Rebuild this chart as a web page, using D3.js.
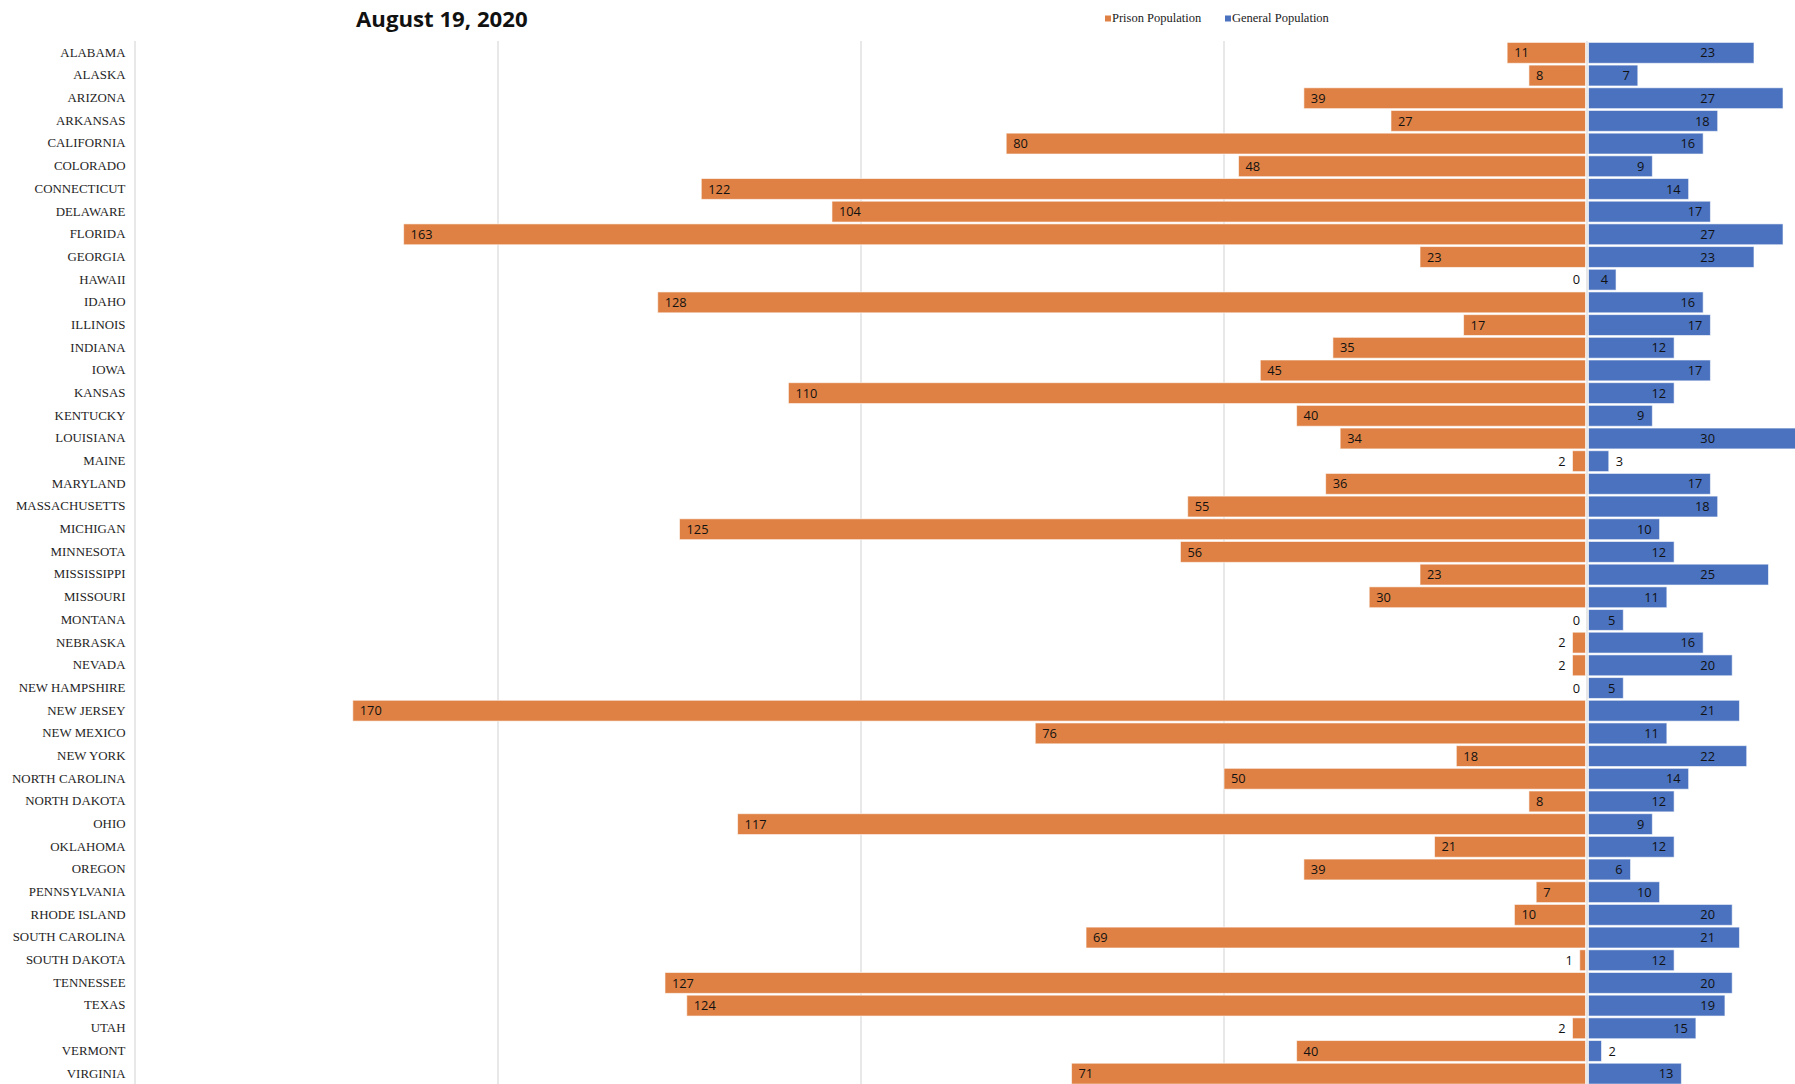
<!DOCTYPE html>
<html>
<head>
<meta charset="utf-8">
<script src="https://cdn.jsdelivr.net/npm/d3@7"></script>
<style>
  body { margin: 0; background: #fff; }
  svg { display: block; }
</style>
</head>
<body>
<svg width="1795" height="1084"></svg>
<script>
// Data
const states = ["ALABAMA", "ALASKA", "ARIZONA", "ARKANSAS", "CALIFORNIA", "COLORADO",
  "CONNECTICUT", "DELAWARE", "FLORIDA", "GEORGIA", "HAWAII", "IDAHO", "ILLINOIS",
  "INDIANA", "IOWA", "KANSAS", "KENTUCKY", "LOUISIANA", "MAINE", "MARYLAND",
  "MASSACHUSETTS", "MICHIGAN", "MINNESOTA", "MISSISSIPPI", "MISSOURI", "MONTANA",
  "NEBRASKA", "NEVADA", "NEW HAMPSHIRE", "NEW JERSEY", "NEW MEXICO", "NEW YORK",
  "NORTH CAROLINA", "NORTH DAKOTA", "OHIO", "OKLAHOMA", "OREGON", "PENNSYLVANIA",
  "RHODE ISLAND", "SOUTH CAROLINA", "SOUTH DAKOTA", "TENNESSEE", "TEXAS", "UTAH",
  "VERMONT", "VIRGINIA"];

const prison = [11, 8, 39, 27, 80, 48, 122, 104, 163, 23, 0, 128, 17, 35, 45, 110, 40,
  34, 2, 36, 55, 125, 56, 23, 30, 0, 2, 2, 0, 170, 76, 18, 50, 8, 117, 21, 39, 7, 10,
  69, 1, 127, 124, 2, 40, 71];

const general = [23, 7, 27, 18, 16, 9, 14, 17, 27, 23, 4, 16, 17, 12, 17, 12, 9, 30, 3,
  17, 18, 10, 12, 25, 11, 5, 16, 20, 5, 21, 11, 22, 14, 12, 9, 12, 6, 10, 20, 21, 12,
  20, 19, 15, 2, 13];

const gridTicks = [-200, -150, -100, -50, 0];
const seriesNames = ["Prison Population", "General Population"];

const orange = "#df8144";
const blue = "#4a72bf";

const svg = d3.select("svg");

// scales: prison goes left of zero, general to the right
const x = d3.scaleLinear()
   .domain([-200, 200])
   .range([135, 3039]);

const y = d3.scaleBand()
   .domain(states)
   .range([41.5, 1085])
   .paddingInner(0.08)
   .paddingOuter(0.04);

const labelMaxX = 1715; // labels stay inside the visible plot area

// gridlines
svg.append("g")
   .selectAll("line")
   .data(gridTicks)
   .join("line")
   .attr("x1", d => x(d))
   .attr("x2", d => x(d))
   .attr("y1", 41)
   .attr("y2", 1084)
   .attr("stroke", "#d9d9d9")
   .attr("stroke-width", 1.2);

// prison bars (left)
svg.append("g")
   .selectAll("rect")
   .data(states)
   .join("rect")
   .attr("x", (d, i) => x(-prison[i]))
   .attr("y", d => y(d))
   .attr("width", (d, i) => Math.max(0, x(0) - x(-prison[i]) - 1.5))
   .attr("height", y.bandwidth())
   .attr("fill", orange)
   .attr("stroke", "#fff")
   .attr("stroke-opacity", 0.6)
   .attr("stroke-width", 1)
   .attr("display", (d, i) => prison[i] === 0 ? "none" : null);

// general bars (right)
svg.append("g")
   .selectAll("rect")
   .data(states)
   .join("rect")
   .attr("x", x(0) + 1.5)
   .attr("y", d => y(d))
   .attr("width", (d, i) => Math.max(0, x(general[i]) - x(0) - 1.5))
   .attr("height", y.bandwidth())
   .attr("fill", blue)
   .attr("stroke", "#fff")
   .attr("stroke-opacity", 0.6)
   .attr("stroke-width", 1);

// value labels
const labelFont = "'Open Sans', sans-serif";
const fits = (v) => Math.abs(x(v) - x(0)) >= String(v).length * 7 + 16;

svg.append("g")
   .selectAll("text")
   .data(states)
   .join("text")
   .attr("x", (d, i) => fits(prison[i]) ? x(-prison[i]) + 7 : x(-prison[i]) - 7)
   .attr("y", d => y(d) + y.bandwidth() / 2)
   .attr("dy", "0.36em")
   .attr("text-anchor", (d, i) => fits(prison[i]) ? "start" : "end")
   .attr("font-family", labelFont)
   .attr("font-size", "12.8px")
   .attr("fill", "#111")
   .text((d, i) => prison[i]);

svg.append("g")
   .selectAll("text")
   .data(states)
   .join("text")
   .attr("x", (d, i) => fits(general[i]) ? Math.min(x(general[i]) - 8, labelMaxX) : x(general[i]) + 7)
   .attr("y", d => y(d) + y.bandwidth() / 2)
   .attr("dy", "0.36em")
   .attr("text-anchor", (d, i) => fits(general[i]) ? "end" : "start")
   .attr("font-family", labelFont)
   .attr("font-size", "12.8px")
   .attr("fill", "#111")
   .text((d, i) => general[i]);

// state names
svg.append("g")
   .selectAll("text")
   .data(states)
   .join("text")
   .attr("x", 125.5)
   .attr("y", d => y(d) + y.bandwidth() / 2)
   .attr("dy", "0.3em")
   .attr("text-anchor", "end")
   .attr("font-family", "'Liberation Serif', 'Times New Roman', serif")
   .attr("font-size", "12.9px")
   .attr("fill", "#1e1e1e")
   .text(d => d);

// title
svg.append("text")
   .attr("x", 356)
   .attr("y", 26.5)
   .attr("font-family", "'Open Sans', sans-serif")
   .attr("font-weight", "bold")
   .attr("font-size", "22.2px")
   .attr("fill", "#111")
   .text("August 19, 2020");

// legend
const legendX = [1105, 1225];
const legendColors = [orange, blue];
const legend = svg.append("g")
   .selectAll("g")
   .data(seriesNames)
   .join("g")
   .attr("transform", (d, i) => `translate(${legendX[i]},0)`);

legend.append("rect")
   .attr("x", 0)
   .attr("y", 15.5)
   .attr("width", 6)
   .attr("height", 6)
   .attr("fill", (d, i) => legendColors[i]);

legend.append("text")
   .attr("x", 7)
   .attr("y", 22)
   .attr("font-family", "'Liberation Serif', 'Times New Roman', serif")
   .attr("font-size", "12.5px")
   .attr("fill", "#222")
   .text(d => d);
</script>
</body>
</html>
